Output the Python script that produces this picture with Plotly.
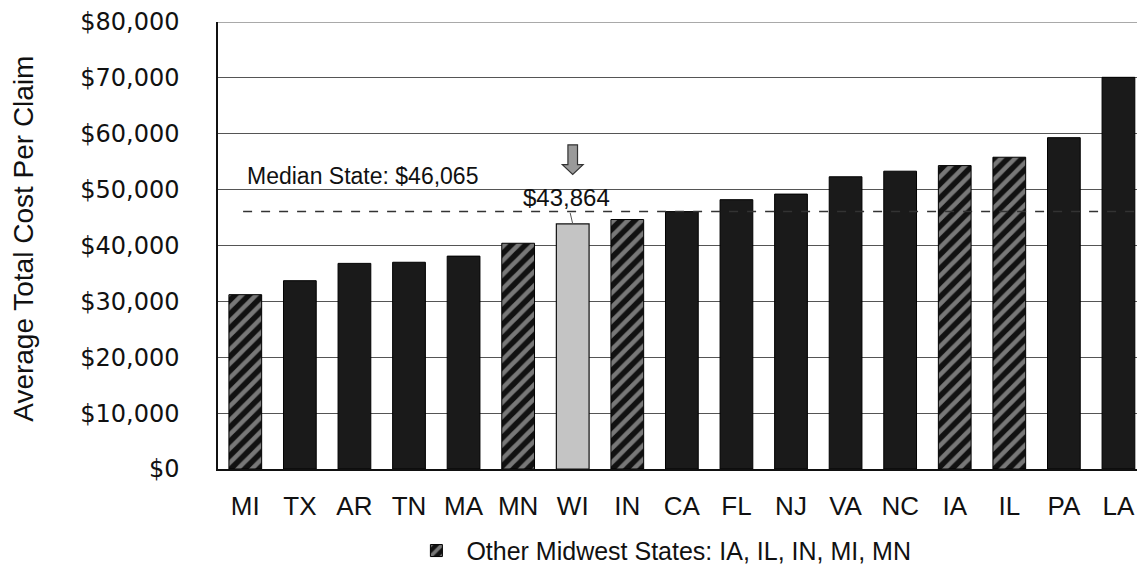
import plotly.graph_objects as go

states = ["MI", "TX", "AR", "TN", "MA", "MN", "WI", "IN", "CA", "FL", "NJ", "VA", "NC", "IA", "IL", "PA", "LA"]
cost = [31200, 33700, 36800, 37000, 38100, 40400, 43864, 44650, 46065, 48200, 49200, 52300, 53300, 54300, 55800, 59300, 70100]
midwest = ["IA", "IL", "IN", "MI", "MN"]
focus_state = "WI"
median_cost = 46065
y_ticks = [0, 10000, 20000, 30000, 40000, 50000, 60000, 70000, 80000]
legend_label = "Other Midwest States: IA, IL, IN, MI, MN"
y_title = "Average Total Cost Per Claim"

idx = list(range(len(states)))
mw_x = [i for i, s in zip(idx, states) if s in midwest]
mw_y = [c for s, c in zip(states, cost) if s in midwest]
ot_x = [i for i, s in zip(idx, states) if s not in midwest and s != focus_state]
ot_y = [c for s, c in zip(states, cost) if s not in midwest and s != focus_state]
wi_i = states.index(focus_state)
wi_v = cost[wi_i]

FONT = "Liberation Sans, Arial, sans-serif"

fig = go.Figure()
fig.add_trace(go.Bar(
    x=ot_x, y=ot_y, name="Other states", showlegend=False,
    marker=dict(color="#1a1a1a", line=dict(color="#000", width=1)),
))
fig.add_trace(go.Bar(
    x=[wi_i], y=[wi_v], name=focus_state, showlegend=False,
    marker=dict(color="#c4c4c4", line=dict(color="#111", width=1.2)),
))
fig.add_trace(go.Bar(
    x=mw_x, y=mw_y, name=legend_label, showlegend=True,
    marker=dict(color="#111", line=dict(color="#000", width=1),
                pattern=dict(shape="/", fgcolor="#e0e0e0", bgcolor="#111",
                             size=10, solidity=0.45)),
))

# median dashed line
fig.add_shape(type="line", xref="x", yref="y", x0=-0.04, x1=16.34,
              y0=median_cost, y1=median_cost,
              line=dict(color="#333", width=1.5, dash="dash"), layer="above")

fig.add_annotation(x=-0.005, y=median_cost, yshift=36, xref="x", yref="y",
                   text=f"Median State: ${median_cost:,}", showarrow=False,
                   xanchor="left", yanchor="middle",
                   font=dict(family=FONT, size=23, color="#111"))

fig.add_annotation(x=wi_i, y=wi_v, xref="x", yref="y",
                   text=f"${wi_v:,}", showarrow=True, arrowhead=0,
                   arrowwidth=1, arrowcolor="#555", ax=-6, ay=-26,
                   font=dict(family=FONT, size=24, color="#111"))

# downward block arrow above WI
sw, hw = 0.088, 0.19
yt, yh, ytip = wi_v + 14150, wi_v + 10600, wi_v + 8850
path = (f"M {wi_i - sw},{yt} L {wi_i + sw},{yt} L {wi_i + sw},{yh} L {wi_i + hw},{yh} "
        f"L {wi_i},{ytip} L {wi_i - hw},{yh} L {wi_i - sw},{yh} Z")
fig.add_shape(type="path", xref="x", yref="y", path=path,
              fillcolor="#9a9a9a", line=dict(color="#333", width=1.2))

# top gridline at the upper end of the value range
fig.add_shape(type="line", xref="paper", yref="y", x0=0, x1=1,
              y0=y_ticks[-1], y1=y_ticks[-1], line=dict(color="#555", width=1))

fig.add_annotation(x=-0.2111, y=0.515, xref="paper", yref="paper",
                   text=y_title, textangle=-90, showarrow=False,
                   xanchor="center", yanchor="middle",
                   font=dict(family=FONT, size=28, color="#111"))

fig.update_layout(
    width=1137, height=565,
    margin=dict(l=218, r=0, t=22, b=96, pad=0, autoexpand=False),
    paper_bgcolor="white", plot_bgcolor="white",
    bargap=0.4,
    font=dict(family=FONT, color="#111"),
    showlegend=True,
    legend=dict(orientation="h", x=0.205, y=-0.183, xanchor="left", yanchor="middle",
                itemwidth=50,
                font=dict(family=FONT, size=25, color="#111"),
                bgcolor="rgba(0,0,0,0)"),
)
fig.update_xaxes(
    range=[-0.5, 16.34], tickmode="array", tickvals=idx, ticktext=states,
    showgrid=False, showline=True, linecolor="#111", linewidth=1.5,
    ticks="", ticklabelstandoff=13, automargin=False, ticklabeloverflow="allow",
    tickfont=dict(family=FONT, size=26, color="#111"), zeroline=False,
)
fig.update_yaxes(
    range=[0, 80000], tickmode="array", tickvals=y_ticks,
    ticktext=[f"${v:,}" for v in y_ticks],
    showgrid=True, gridcolor="#555", gridwidth=1,
    showline=True, linecolor="#111", linewidth=1.5,
    ticks="", ticklabelstandoff=32, zeroline=False, automargin=False,
    tickfont=dict(family="DejaVu Sans, sans-serif", size=24, color="#111"),
)

# remove the default page margin so the figure fills the window exactly
post_js = ("document.body.style.margin='0';"
           "document.documentElement.style.overflow='hidden';"
           "document.body.style.overflow='hidden';")

fig.write_html("out.html", post_script=post_js, config={"displayModeBar": False})
